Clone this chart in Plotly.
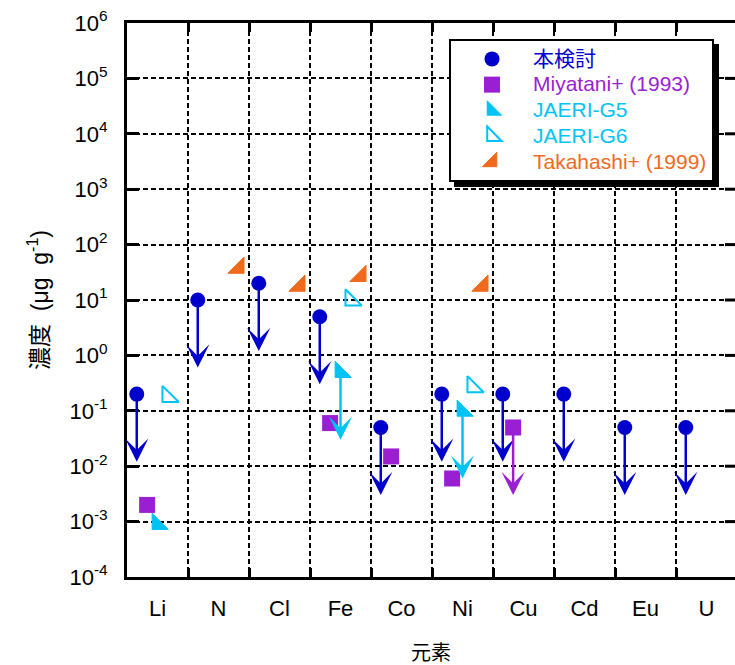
import math
import plotly.graph_objects as go

# ---- data -------------------------------------------------------------
elements = ["Li", "N", "Cl", "Fe", "Co", "Ni", "Cu", "Cd", "Eu", "U"]

# 本検討 (all values are upper limits)
this_work_el = ["Li", "N", "Cl", "Fe", "Co", "Ni", "Cu", "Cd", "Eu", "U"]
this_work_val = [0.2, 10, 20, 5, 0.05, 0.2, 0.2, 0.2, 0.05, 0.05]
this_work_upper = [True, True, True, True, True, True, True, True, True, True]

# Miyatani+ (1993)
miyatani_el = ["Li", "Fe", "Co", "Ni", "Cu"]
miyatani_val = [0.002, 0.06, 0.015, 0.006, 0.05]
miyatani_upper = [False, False, False, False, True]

# JAERI-G5
g5_el = ["Li", "Fe", "Ni"]
g5_val = [0.0009, 0.5, 0.1]
g5_upper = [False, True, True]

# JAERI-G6
g6_el = ["Li", "Fe", "Ni"]
g6_val = [0.18, 10, 0.27]
g6_upper = [False, False, False]

# Takahashi+ (1999)
takahashi_el = ["N", "Cl", "Fe", "Ni"]
takahashi_val = [38, 18, 27, 18]
takahashi_upper = [False, False, False, False]

decades = [-4, -3, -2, -1, 0, 1, 2, 3, 4, 5, 6]

# ---- styling ----------------------------------------------------------
BLUE = "#0000CC"
PURPLE = "#9A1ED2"
CYAN = "#00C3F5"
ORANGE = "#F06A1E"
FONT = "Liberation Sans, Arial, Noto Sans CJK JP, sans-serif"
ARROW_DECADES = 1.22  # drawn length of an upper-limit arrow

series = [
    dict(name="本検討", el=this_work_el, val=this_work_val, upper=this_work_upper,
         dx=-0.34, symbol="circle", size=15, color=BLUE, fill=BLUE, lw=0),
    dict(name="Miyatani+ (1993)", el=miyatani_el, val=miyatani_val, upper=miyatani_upper,
         dx=-0.17, symbol="square", size=16, color=PURPLE, fill=PURPLE, lw=0),
    dict(name="JAERI-G5", el=g5_el, val=g5_val, upper=g5_upper,
         dx=0.0, symbol="triangle-sw", size=18, color=CYAN, fill=CYAN, lw=1),
    dict(name="JAERI-G6", el=g6_el, val=g6_val, upper=g6_upper,
         dx=0.17, symbol="triangle-sw-open", size=18, color=CYAN, fill=CYAN, lw=2),
    dict(name="Takahashi+ (1999)", el=takahashi_el, val=takahashi_val, upper=takahashi_upper,
         dx=0.33, symbol="triangle-se", size=18, color=ORANGE, fill=ORANGE, lw=1),
]

fig = go.Figure()
annotations = []

for s in series:
    xs = [elements.index(e) + s["dx"] for e in s["el"]]
    fig.add_trace(go.Scatter(
        x=xs, y=s["val"], mode="markers",
        name=f'<span style="color:{s["color"]};font-size:21px">{s["name"]}</span>',
        marker=dict(symbol=s["symbol"], size=s["size"], color=s["fill"],
                    line=dict(color=s["color"], width=s["lw"])),
    ))
    # upper-limit arrows pointing down from the marker
    for x, v, up in zip(xs, s["val"], s["upper"]):
        if not up:
            continue
        annotations.append(dict(
            x=x, y=math.log10(v) - ARROW_DECADES, xref="x", yref="y",
            ax=x, ay=math.log10(v), axref="x", ayref="y",
            text="", showarrow=True, arrowhead=3, arrowsize=1.55,
            arrowwidth=2.5, arrowcolor=s["color"], standoff=0,
        ))

W, H = 735, 665
ML, MR, MT, MB = 127, 0, 23, 88
plot_w = W - ML - MR
plot_h = H - MT - MB
x_max = -0.5 + plot_w / 61.0


def px(xp):
    return (xp - ML) / plot_w


def py(yp):
    return 1 - (yp - MT) / plot_h


# short tick marks along the right edge of the frame
shapes = []
for d in decades[1:-1]:
    shapes.append(dict(type="line", xref="paper", yref="y",
                       x0=1 - 10 / plot_w, x1=1, y0=10 ** d, y1=10 ** d,
                       line=dict(color="black", width=3)))

# drop shadow behind the legend box
LEG_L, LEG_T, LEG_R, LEG_B = 449, 39, 714, 182
shapes.append(dict(type="rect", xref="paper", yref="paper", layer="above",
                   x0=px(LEG_L + 5), x1=px(LEG_R + 5), y0=py(LEG_B + 5), y1=py(LEG_T + 5),
                   fillcolor="black", line=dict(width=0)))

fig.update_layout(
    width=W, height=H,
    margin=dict(l=ML, r=MR, t=MT, b=MB, pad=0),
    paper_bgcolor="white", plot_bgcolor="white",
    font=dict(family=FONT, color="black", size=20),
    showlegend=True,
    legend=dict(x=px(LEG_L), y=py(LEG_T), xanchor="left", yanchor="top",
                bgcolor="white", bordercolor="black", borderwidth=2,
                font=dict(size=17.5, family=FONT), itemwidth=72,
                tracegroupgap=0),
    annotations=annotations,
    shapes=shapes,
    xaxis=dict(
        range=[-0.5, x_max], tickmode="array",
        tickvals=list(range(len(elements))), ticktext=elements,
        ticks="", showgrid=False, zeroline=False,
        showline=True, linecolor="black", linewidth=3, mirror="ticks",
        tickfont=dict(size=22, family=FONT), ticklabelstandoff=10,
        minor=dict(tickmode="array", tickvals=[i + 0.5 for i in range(len(elements) - 1)],
                   ticks="inside", ticklen=9, tickwidth=3, tickcolor="black",
                   showgrid=True, gridcolor="black", gridwidth=2, griddash="5px,3px"),
        title=dict(text="元素", font=dict(size=20, family=FONT), standoff=26),
    ),
    yaxis=dict(
        type="log", range=[-4, 6], tickmode="array",
        tickvals=[10 ** d for d in decades],
        ticktext=[f"10<sup>{d}</sup>" for d in decades],
        ticks="inside", ticklen=12, tickwidth=3, tickcolor="black",
        showgrid=True, gridcolor="black", gridwidth=2, griddash="5px,3px",
        zeroline=False, showline=True, linecolor="black", linewidth=3,
        tickfont=dict(size=22, family=FONT), ticklabelstandoff=12,
        title=dict(text="濃度\u00a0 (μg\u00a0 g<sup>-1</sup>)",
                   font=dict(size=23, family=FONT), standoff=15),
    ),
)

fig.write_html("out.html")
